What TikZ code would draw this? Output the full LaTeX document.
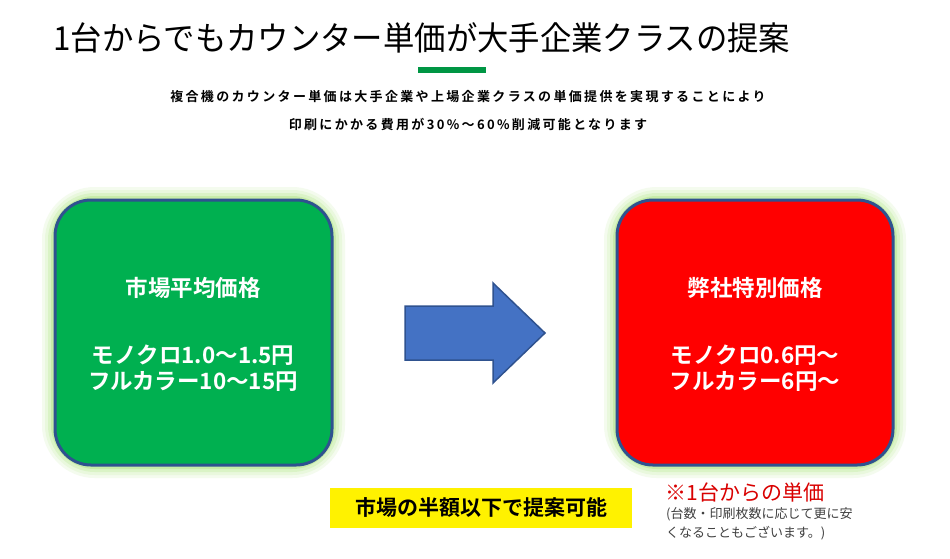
\documentclass[tikz,border=0pt]{standalone}
\usepackage{fontspec}
\newfontfamily\cjk{Noto Sans CJK JP}
\newfontfamily\cjkb{Noto Sans CJK JP Bold}
\newfontfamily\cjksp[LetterSpace=18]{Noto Sans CJK JP Bold}
\definecolor{gbox}{HTML}{00B050}
\definecolor{rbox}{HTML}{FF0000}
\definecolor{edge}{HTML}{2F528F}
\definecolor{arr}{HTML}{4472C4}
\definecolor{glow}{HTML}{B4E68C}
\begin{document}
\begin{tikzpicture}[x=1pt,y=-1pt,
  pbox/.style={draw=edge,line width=3pt,rounded corners=36pt},
  wtxt/.style={text=white,font=\cjkb\fontsize{22.5}{26}\selectfont,align=center}]
\useasboundingbox (0,0) rectangle (950,558);
\fill[white] (0,0) rectangle (950,558);
% glows
\foreach \c/\w in {15/26,30/20,50/14,75/8}{
  \draw[glow!\c!white,line width=\w pt,rounded corners=40pt] (55,200) rectangle (332,465);
  \draw[glow!\c!white,line width=\w pt,rounded corners=40pt] (617,200) rectangle (893,465);}
\node[anchor=west,font=\cjk\fontsize{33}{36}\selectfont,xscale=0.95] (title) at (50,38) {1台からでもカウンター単価が大手企業クラスの提案};
\fill[gbox!85!black] (418,67) rectangle (486,73);
\node[font=\cjksp\fontsize{13}{15}\selectfont] (sub1) at (468,97) {複合機のカウンター単価は大手企業や上場企業クラスの単価提供を実現することにより};
\node[font=\cjksp\fontsize{13}{15}\selectfont] (sub2) at (468,124) {印刷にかかる費用が30\%～60\%削減可能となります};
\draw[pbox,fill=gbox] (55,200) rectangle (332,465);
\draw[pbox,fill=rbox] (617,200) rectangle (893,465);
\node[wtxt] (g1) at (193,288) {市場平均価格};
\node[wtxt] (g2) at (193,368) {モノクロ1.0～1.5円\\フルカラー10～15円};
\node[wtxt] (r1) at (755,288) {弊社特別価格};
\node[wtxt] (r2) at (755,368) {モノクロ0.6円～\\フルカラー6円～};
\coordinate (arrow) at (475,333);
\draw[edge,line width=1.5pt,fill=arr] (405,306) -- (493,306) -- (493,283) -- (545,333) -- (493,383) -- (493,360) -- (405,360) -- cycle;
\fill[yellow] (330,488) rectangle (632,528);
\node[font=\cjkb\fontsize{21}{22}\selectfont] (y) at (481,508) {市場の半額以下で提案可能};
\node[anchor=west,text=rbox!85!black,font=\cjk\fontsize{21}{22}\selectfont] (note) at (662,492) {※1台からの単価};
\node[anchor=north west,text=black!75,font=\cjk\fontsize{13}{19}\selectfont,align=left,inner sep=0pt] (note2) at (666,507) {(台数・印刷枚数に応じて更に安\\くなることもございます。)};
\end{tikzpicture}
\end{document}
